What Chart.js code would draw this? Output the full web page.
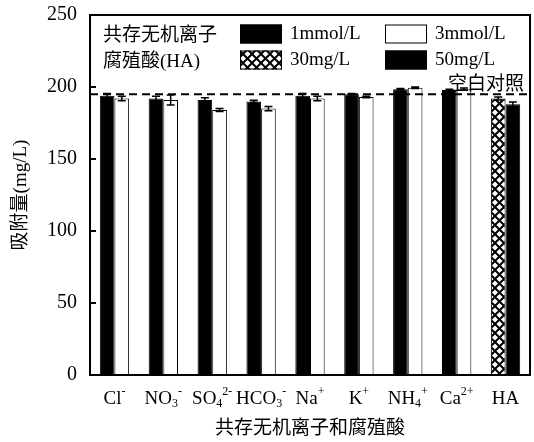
<!DOCTYPE html>
<html>
<head>
<meta charset="utf-8">
<script src="https://cdn.jsdelivr.net/npm/chart.js@4"></script>
<style>
  body { margin: 0; background: #fff; }
  #wrap { width: 534px; height: 442px; }
</style>
</head>
<body>
<div id="wrap"><canvas id="chart"></canvas></div>
<script>
// categories use _ for subscript and ^ for superscript
const categories = ['Cl^-', 'NO_3^-', 'SO_4^2-', 'HCO_3^-', 'Na^+', 'K^+', 'NH_4^+', 'Ca^2+', 'HA'];
const ion1mmol    = [194, 192, 191, 190, 194, 195, 198.5, 198, null];
const ion1mmolErr = [1.5, 1.5, 1.5, 0.8, 1.5, 0.5, 0.5, 0.5, null];
const ion3mmol    = [192, 191, 184, 185, 192, 193, 199.5, 198.5, null];
const ion3mmolErr = [1.5, 3.5, 1, 1.5, 1.5, 0.5, 0.5, 0.8, null];
const ha30    = [null, null, null, null, null, null, null, null, 192];
const ha30Err = [null, null, null, null, null, null, null, null, 1];
const ha50    = [null, null, null, null, null, null, null, null, 188];
const ha50Err = [null, null, null, null, null, null, null, null, 1.5];
const blankControl = 195;
const yTicks = [0, 50, 100, 150, 200, 250];

const SERIF = '"Liberation Serif", "Noto Sans CJK SC", serif';

function hatch() {
    const c = document.createElement('canvas');
    c.width = 9; c.height = 9;
    const g = c.getContext('2d');
    g.fillStyle = '#fff';
    g.fillRect(0, 0, 9, 9);
    g.strokeStyle = '#000';
    g.lineWidth = 2;
    g.beginPath();
    g.moveTo(-2, -2); g.lineTo(11, 11);
    g.moveTo(11, -2); g.lineTo(-2, 11);
    g.stroke();
    return g.createPattern(c, 'repeat');
}

// draws a label like NO_3^- with real sub/superscripts
function drawRich(ctx, text, cx, cy) {
    const parts = [];
    let i = 0;
    while (i < text.length) {
        if (text[i] === '_' || text[i] === '^') {
            const kind = text[i] === '_' ? 'sub' : 'sup';
            let j = i + 1;
            while (j < text.length && /[0-9+\-]/.test(text[j]) && !(kind === 'sub' && /[+\-]/.test(text[j]))) j++;
            parts.push({ t: text.slice(i + 1, j), kind });
            i = j;
        } else {
            let j = i;
            while (j < text.length && text[j] !== '_' && text[j] !== '^') j++;
            parts.push({ t: text.slice(i, j), kind: 'base' });
            i = j;
        }
    }
    const big = '19px ' + SERIF, small = '12px ' + SERIF;
    let w = 0;
    parts.forEach(p => { ctx.font = p.kind === 'base' ? big : small; p.w = ctx.measureText(p.t).width; w += p.w; });
    let x = cx - w / 2;
    parts.forEach(p => {
        ctx.font = p.kind === 'base' ? big : small;
        const dy = p.kind === 'sup' ? -7 : p.kind === 'sub' ? 5 : 0;
        ctx.fillText(p.t, x, cy + dy);
        x += p.w;
    });
}

const errors = [ion1mmolErr, ion3mmolErr, ha30Err, ha50Err];

const extras = {
    id: 'extras',
    afterDatasetsDraw(chart) {
        const { ctx, chartArea: a, scales: { x, y } } = chart;
        ctx.save();
        ctx.strokeStyle = '#000';
        ctx.lineWidth = 1.5;
        chart.data.datasets.forEach((ds, di) => {
            const meta = chart.getDatasetMeta(di);
            meta.data.forEach((bar, i) => {
                const v = ds.data[i], e = errors[di][i];
                if (v == null || e == null) return;
                const t = y.getPixelForValue(v + e), b = y.getPixelForValue(v - e);
                ctx.beginPath();
                ctx.moveTo(bar.x, t); ctx.lineTo(bar.x, b);
                ctx.moveTo(bar.x - 4, t); ctx.lineTo(bar.x + 4, t);
                ctx.moveTo(bar.x - 4, b); ctx.lineTo(bar.x + 4, b);
                ctx.stroke();
            });
        });

        // blank control line
        const yb = y.getPixelForValue(blankControl);
        ctx.setLineDash([8, 5]);
        ctx.lineWidth = 2;
        ctx.beginPath();
        ctx.moveTo(a.left, yb); ctx.lineTo(a.right, yb);
        ctx.stroke();
        ctx.setLineDash([]);
        ctx.fillStyle = '#000';
        ctx.font = '19px ' + SERIF;
        ctx.textAlign = 'right';
        ctx.textBaseline = 'alphabetic';
        ctx.fillText('空白对照', a.right - 6, yb - 4);
        ctx.restore();
    },
    afterDraw(chart) {
        const { ctx, chartArea: a, scales: { x, y } } = chart;
        ctx.save();
        ctx.strokeStyle = '#000';
        ctx.fillStyle = '#000';
        ctx.lineWidth = 2;
        ctx.strokeRect(a.left, a.top, a.right - a.left, a.bottom - a.top);
        // inward ticks
        ctx.beginPath();
        yTicks.forEach(t => {
            const py = y.getPixelForValue(t);
            ctx.moveTo(a.left, py); ctx.lineTo(a.left + 6, py);
        });
        ctx.stroke();

        // category labels
        ctx.textAlign = 'left';
        ctx.textBaseline = 'middle';
        categories.forEach((c, i) => drawRich(ctx, c, x.getPixelForValue(i), a.bottom + 24));

        // legend
        ctx.font = '19px ' + SERIF;
        const rows = [['共存无机离子', 0, 1], ['腐殖酸(HA)', 2, 3]];
        rows.forEach((r, ri) => {
            const cy = a.top + 19 + ri * 26;
            ctx.fillStyle = '#000';
            ctx.fillText(r[0], a.left + 13, cy + 2);
            [r[1], r[2]].forEach((di, j) => {
                const ds = chart.data.datasets[di];
                const bx = a.left + 150 + j * 145;
                ctx.fillStyle = ds.backgroundColor;
                ctx.fillRect(bx, cy - 9.5, 42, 19);
                ctx.lineWidth = 1;
                ctx.strokeRect(bx + 0.5, cy - 9, 41, 18);
                ctx.fillStyle = '#000';
                ctx.fillText(ds.label, bx + 50, cy);
            });
        });
        ctx.restore();
    }
};

const chart = new Chart(document.querySelector('#chart').getContext('2d'), {
    type: 'bar',
    data: {
        labels: categories,
        datasets: [
            { label: '1mmol/L', data: ion1mmol, backgroundColor: '#000', borderColor: '#000', borderWidth: 1 },
            { label: '3mmol/L', data: ion3mmol, backgroundColor: '#fff', borderColor: '#000', borderWidth: 1 },
            { label: '30mg/L', data: ha30, backgroundColor: hatch(), borderColor: '#000', borderWidth: 1 },
            { label: '50mg/L', data: ha50, backgroundColor: '#000', borderColor: '#000', borderWidth: 1 }
        ]
    },
    options: {
        responsive: true,
        maintainAspectRatio: false,
        animation: false,
        skipNull: true,
        categoryPercentage: 0.6,
        barPercentage: 1,
        layout: { padding: { top: 15, right: 4, left: 0, bottom: 0 } },
        plugins: { legend: { display: false }, tooltip: { enabled: false } },
        scales: {
            x: {
                grid: { display: false, drawTicks: false },
                border: { display: false },
                ticks: { display: false },
                title: {
                    display: true, text: '共存无机离子和腐殖酸', color: '#000',
                    font: { family: SERIF, size: 19 }, padding: { top: 0, bottom: 2 }
                },
                afterFit(s) { s.height = 67; s.paddingLeft = 0; s.paddingRight = 0; }
            },
            y: {
                min: 0, max: 250,
                grid: { display: false, drawTicks: false },
                border: { display: false },
                ticks: { stepSize: 50, color: '#000', padding: 13, font: { family: SERIF, size: 20 } },
                title: {
                    display: true, text: '吸附量(mg/L)', color: '#000',
                    font: { family: SERIF, size: 19 }, padding: { top: 10, bottom: 0 }
                },
                afterFit(s) { s.width = 90; s.paddingTop = 0; s.paddingBottom = 0; }
            }
        }
    },
    plugins: [extras]
});
</script>
</body>
</html>
